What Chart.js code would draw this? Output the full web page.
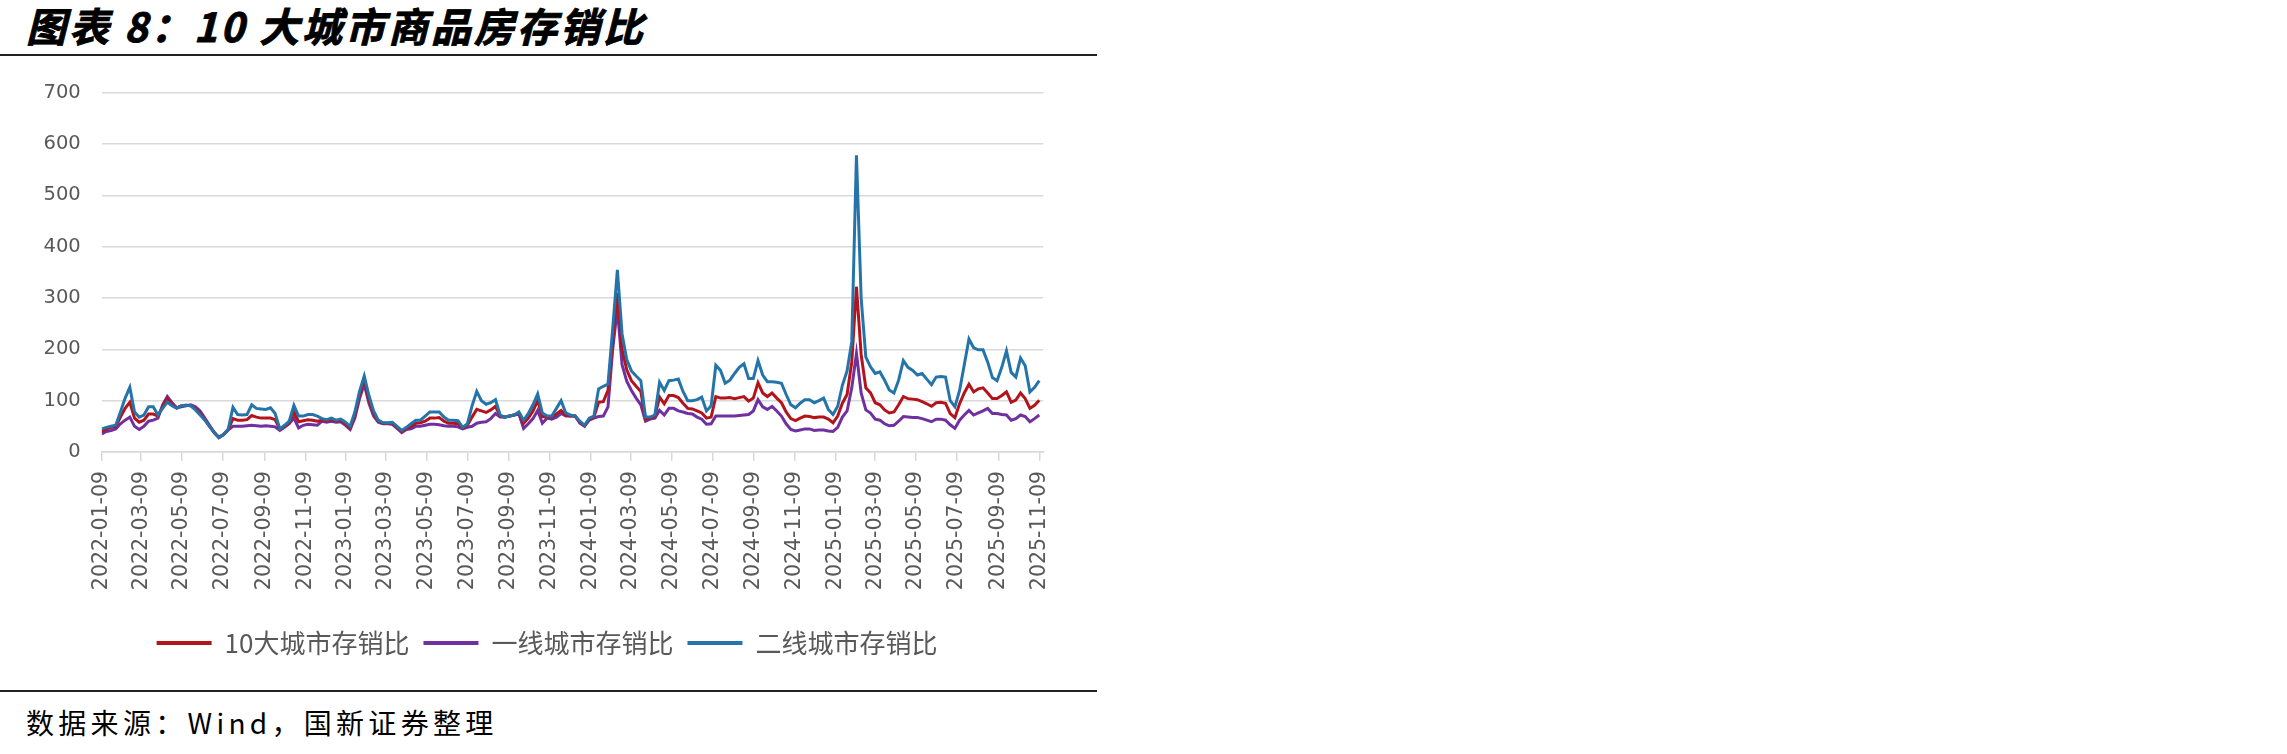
<!DOCTYPE html>
<html><head><meta charset="utf-8">
<script src="https://cdn.jsdelivr.net/npm/chart.js@4.4.1/dist/chart.umd.min.js"></script>
<style>
html,body{margin:0;padding:0;background:#fff;width:2287px;height:754px;overflow:hidden;}
#title{position:absolute;left:26px;top:-4px;font:italic bold 40px "Noto Sans CJK SC";letter-spacing:3px;color:#000;white-space:nowrap;-webkit-text-stroke:0.9px #000;}
.rule{position:absolute;left:0;width:1097px;height:2px;background:#222;}
#source{position:absolute;left:26px;top:702px;font:28px "Noto Sans CJK SC";letter-spacing:4.3px;color:#000;white-space:nowrap;}
#wrap{position:absolute;left:0;top:60px;width:1097px;height:606px;}
</style></head>
<body>
<div id="title">图表 8：10 大城市商品房存销比</div>
<div class="rule" style="top:54px"></div>
<div id="wrap"><canvas id="c"></canvas></div>
<div class="rule" style="top:690px"></div>
<div id="source">数据来源：Wind，国新证券整理</div>
<script>
// weekly observations starting 2022-01-09
const startDate = '2022-01-09';
const seriesNames = ['10大城市存销比', '一线城市存销比', '二线城市存销比'];
const tickLabels = ['2022-01-09','2022-03-09','2022-05-09','2022-07-09','2022-09-09','2022-11-09',
  '2023-01-09','2023-03-09','2023-05-09','2023-07-09','2023-09-09','2023-11-09',
  '2024-01-09','2024-03-09','2024-05-09','2024-07-09','2024-09-09','2024-11-09',
  '2025-01-09','2025-03-09','2025-05-09','2025-07-09','2025-09-09','2025-11-09'];

const top10 = [
  40,45,48,50,68,85,97,66,58,62,
  74,74,70,88,104,92,86,90,91,90,
  84,75,63,50,38,28,34,44,65,62,
  62,63,71,68,66,66,66,63,44,50,
  57,78,59,61,63,62,60,62,61,63,
  60,62,55,47,72,112,142,102,75,60,
  56,56,56,48,40,46,50,56,57,60,
  66,66,67,60,56,56,55,47,52,68,
  83,80,77,82,89,70,68,70,72,76,
  56,66,80,100,69,68,68,74,81,72,
  70,70,58,51,64,68,97,98,120,220,
  310,200,160,139,128,118,64,66,70,107,
  94,110,110,106,95,85,84,80,76,66,
  68,108,105,105,106,104,106,108,99,105,
  135,115,108,115,105,96,78,65,61,66,
  70,69,67,68,68,64,57,70,95,112,
  175,322,190,125,115,96,92,82,76,78,
  92,108,104,103,102,98,94,89,96,97,
  95,75,67,94,115,132,117,123,125,115,
  104,104,110,117,97,101,115,104,85,91,101];

const firstTier = [
  35,40,42,45,55,62,68,50,44,50,
  60,62,66,92,108,96,86,88,90,92,
  88,80,66,52,38,28,34,43,50,50,
  50,51,52,51,50,51,50,49,42,48,
  55,66,47,52,54,53,52,60,58,60,
  58,59,52,44,66,104,132,95,70,58,
  55,55,54,46,38,44,45,50,50,52,
  54,54,53,51,50,50,49,45,48,50,
  56,58,59,65,75,68,68,70,72,74,
  46,55,65,81,56,66,64,68,75,70,
  70,70,56,50,62,66,69,70,88,200,
  280,170,138,120,105,92,60,64,66,81,
  72,85,85,80,78,75,74,68,64,54,
  55,70,70,70,70,70,71,72,73,80,
  102,88,83,89,80,70,55,44,41,43,
  45,45,42,43,43,41,40,48,68,80,
  125,192,115,82,76,64,62,55,51,52,
  60,69,68,67,67,65,62,59,64,64,
  62,53,46,62,72,81,72,76,80,85,
  75,75,73,72,62,65,72,69,59,65,72];

const secondTier = [
  45,48,50,52,78,105,126,78,68,72,
  88,88,72,85,97,90,85,90,91,90,
  82,72,62,50,38,28,34,45,87,73,
  72,73,92,85,84,83,86,75,45,52,
  60,91,70,70,73,73,70,65,63,66,
  62,64,58,50,78,118,148,110,80,62,
  57,57,58,50,42,48,55,62,62,70,
  78,78,78,68,62,62,61,48,55,90,
  118,100,93,96,102,72,68,70,72,78,
  62,75,92,113,76,70,70,85,100,76,
  72,70,60,52,66,70,123,128,132,240,
  355,230,180,158,148,139,68,68,72,136,
  120,139,140,142,118,100,100,102,107,80,
  90,169,159,134,140,153,165,172,143,143,
  178,150,137,137,136,134,112,92,86,95,
  102,102,96,100,105,83,73,89,130,158,
  215,578,300,185,166,153,156,140,121,115,
  140,178,165,159,150,153,142,131,146,147,
  146,100,88,120,170,220,203,199,199,175,
  145,139,165,197,155,146,183,168,117,126,139];

const yTicks = [0,100,200,300,400,500,600,700];

const DAY = 86400000;
const t0 = Date.parse(startDate + 'T00:00:00Z');
const dayOf = s => (Date.parse(s + 'T00:00:00Z') - t0) / DAY;
const tickDays = tickLabels.map(dayOf);
const toPoints = arr => arr.map((v, i) => ({x: i * 7, y: v}));

const colors = ['#B3141C', '#7030A0', '#2474AA'];
const valueSets = [top10, firstTier, secondTier];
const drawOrder = [1, 2, 0];
const legendShift = 25.4;

const datasets = seriesNames.map((name, k) => ({
  label: name,
  data: toPoints(valueSets[k]),
  borderColor: colors[k],
  backgroundColor: colors[k],
  borderWidth: 3,
  pointRadius: 0,
  tension: 0,
  order: drawOrder[k]
}));

Chart.defaults.font.family = '"DejaVu Sans"';

new Chart(document.getElementById('c'), {
  type: 'line',
  data: { datasets },
  plugins: [{
    id: 'legendShift',
    afterLayout(chart) {
      chart.legend.left += legendShift;
      chart.legend.right += legendShift;
    }
  }],
  options: {
    responsive: true,
    maintainAspectRatio: false,
    animation: false,
    events: [],
    layout: { padding: { top: 30, left: 0, right: 53.7, bottom: 0 } },
    scales: {
      x: {
        type: 'linear',
        min: 0,
        max: 1406,
        afterBuildTicks: s => { s.ticks = tickDays.map(v => ({ value: v })); },
        afterFit: s => { s.height = 164; },
        ticks: {
          autoSkip: false,
          maxRotation: 90,
          minRotation: 90,
          padding: 10,
          color: '#595959',
          font: { size: 20.5 },
          callback: (v, i) => tickLabels[i]
        },
        grid: { drawOnChartArea: false, drawTicks: true, tickLength: 9, color: '#d9d9d9', lineWidth: 1.5 },
        border: { display: true, color: '#d9d9d9', width: 1.5 }
      },
      y: {
        min: 0,
        max: 700,
        afterBuildTicks: s => { s.ticks = yTicks.map(v => ({ value: v })); },
        afterFit: s => { s.width = 101.7; },
        ticks: { padding: 21, color: '#595959', font: { size: 19.5 } },
        grid: { drawTicks: false, color: '#d9d9d9', lineWidth: 1.5 },
        border: { display: false }
      }
    },
    plugins: {
      tooltip: { enabled: false },
      legend: {
        position: 'bottom',
        labels: {
          boxWidth: 55,
          boxHeight: 4,
          padding: 14,
          color: '#595959',
          font: { family: '"Noto Sans CJK SC"', size: 26 },
          generateLabels: chart => {
            const items = Chart.defaults.plugins.legend.labels.generateLabels(chart);
            items.forEach(it => { it.lineWidth = 0; });
            return items.sort((a, b) => a.datasetIndex - b.datasetIndex);
          }
        }
      }
    }
  }
});
</script>
</body></html>
